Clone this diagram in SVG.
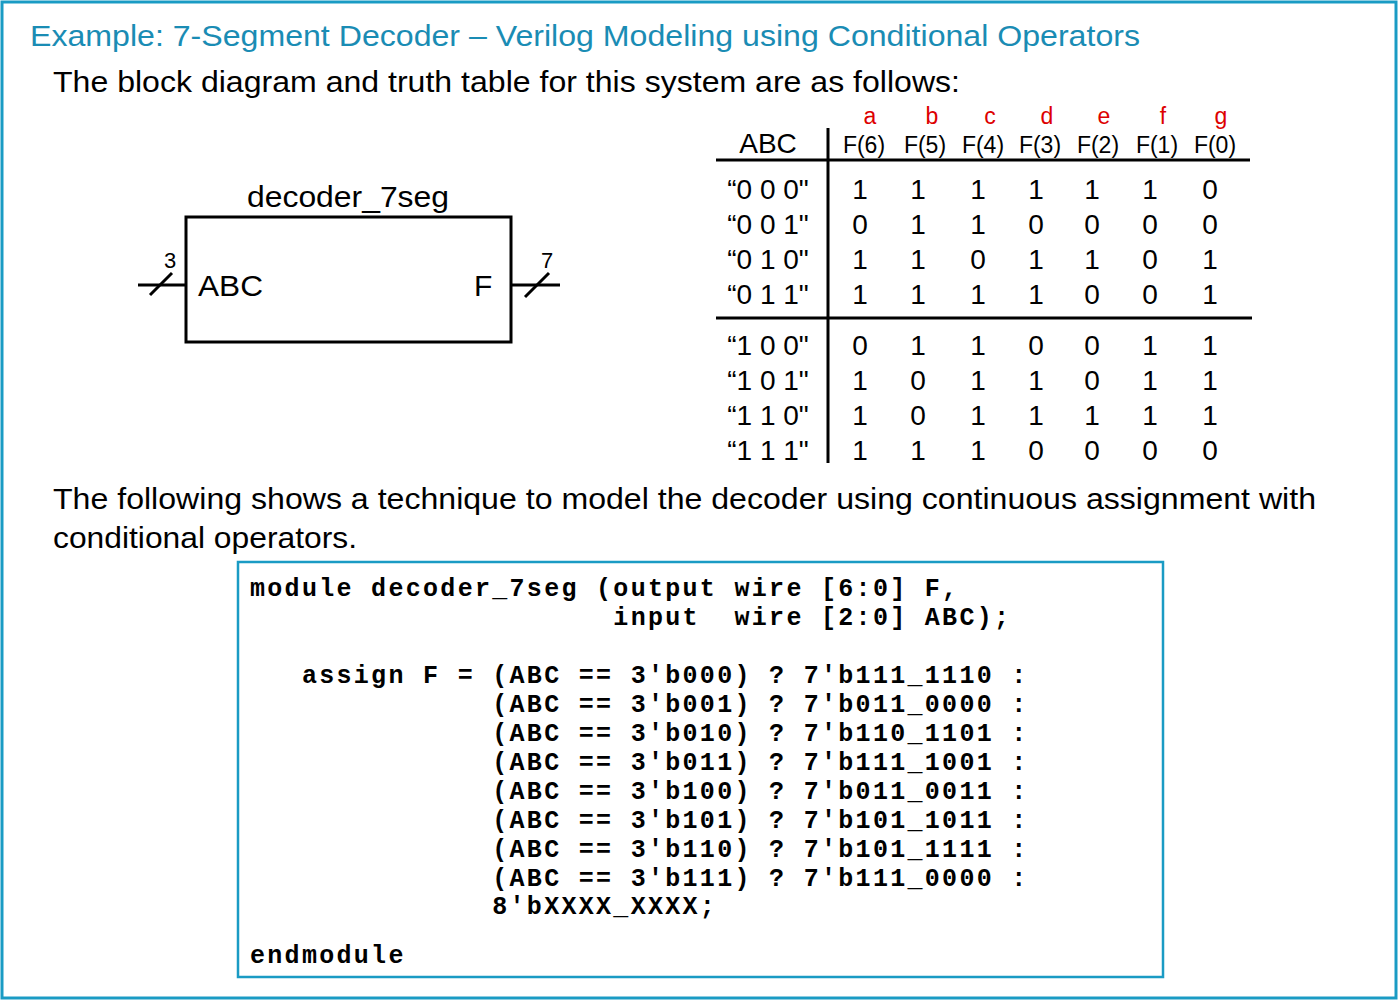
<svg xmlns="http://www.w3.org/2000/svg" width="1400" height="1006" viewBox="0 0 1400 1006">
<style>
.s{font-family:"Liberation Sans",Arial,sans-serif;fill:#000}
.t{font-size:30px}
.h{font-size:23px;text-anchor:middle}
.r{font-size:23px;text-anchor:middle;fill:#d00}
.v{font-size:28px;text-anchor:middle}
.c{font-family:"Liberation Mono","Courier New",monospace;font-weight:bold;font-size:25px;letter-spacing:2.3px;fill:#000;white-space:pre}
.ln{stroke:#000;stroke-width:3;fill:none}
</style>
<rect width="1400" height="1006" fill="#fff"/>
<rect x="2" y="2" width="1394" height="996" fill="none" stroke="#1a9bc4" stroke-width="3"/>
<text x="30" y="46" class="s t" style="fill:#1a8cb4" textLength="1110" lengthAdjust="spacingAndGlyphs">Example: 7-Segment Decoder – Verilog Modeling using Conditional Operators</text>
<text x="53" y="92" class="s t" textLength="907" lengthAdjust="spacingAndGlyphs">The block diagram and truth table for this system are as follows:</text>
<g id="block">
<rect x="186" y="217" width="325" height="125" class="ln"/>
<text x="247" y="207" class="s t" textLength="202" lengthAdjust="spacingAndGlyphs">decoder_7seg</text>
<text x="198" y="296" class="s t" textLength="65" lengthAdjust="spacingAndGlyphs">ABC</text>
<text x="474" y="296" class="s t">F</text>
</g>
<g id="connectors">
<line x1="138" y1="285" x2="186" y2="285" class="ln"/>
<line x1="150" y1="295" x2="172" y2="273" class="ln"/>
<line x1="511" y1="285" x2="560" y2="285" class="ln"/>
<line x1="525" y1="297" x2="549" y2="273" class="ln"/>
</g>
<text x="170" y="268" class="s" font-size="22" text-anchor="middle">3</text>
<text x="547" y="268" class="s" font-size="22" text-anchor="middle">7</text>
<g id="table">
<line x1="828" y1="128" x2="828" y2="463" class="ln"/>
<line x1="716" y1="160" x2="1250" y2="160" class="ln"/>
<line x1="716" y1="318" x2="1252" y2="318" class="ln"/>
<text x="768" y="153" class="s v">ABC</text>
<text x="864" y="153" class="s h">F(6)</text><text x="925" y="153" class="s h">F(5)</text><text x="983" y="153" class="s h">F(4)</text><text x="1040" y="153" class="s h">F(3)</text><text x="1098" y="153" class="s h">F(2)</text><text x="1157" y="153" class="s h">F(1)</text><text x="1215" y="153" class="s h">F(0)</text>
<text x="870" y="124" class="s r">a</text><text x="932" y="124" class="s r">b</text><text x="990" y="124" class="s r">c</text><text x="1047" y="124" class="s r">d</text><text x="1104" y="124" class="s r">e</text><text x="1163" y="124" class="s r">f</text><text x="1221" y="124" class="s r">g</text>
<g class="s v">
<text x="768" y="199">“0 0 0"</text><text x="768" y="234">“0 0 1"</text><text x="768" y="269">“0 1 0"</text><text x="768" y="304">“0 1 1"</text>
<text x="768" y="355">“1 0 0"</text><text x="768" y="390">“1 0 1"</text><text x="768" y="425">“1 1 0"</text><text x="768" y="460">“1 1 1"</text>
</g>
<g class="s v">
<text y="199"><tspan x="860">1</tspan><tspan x="918">1</tspan><tspan x="978">1</tspan><tspan x="1036">1</tspan><tspan x="1092">1</tspan><tspan x="1150">1</tspan><tspan x="1210">0</tspan></text>
<text y="234"><tspan x="860">0</tspan><tspan x="918">1</tspan><tspan x="978">1</tspan><tspan x="1036">0</tspan><tspan x="1092">0</tspan><tspan x="1150">0</tspan><tspan x="1210">0</tspan></text>
<text y="269"><tspan x="860">1</tspan><tspan x="918">1</tspan><tspan x="978">0</tspan><tspan x="1036">1</tspan><tspan x="1092">1</tspan><tspan x="1150">0</tspan><tspan x="1210">1</tspan></text>
<text y="304"><tspan x="860">1</tspan><tspan x="918">1</tspan><tspan x="978">1</tspan><tspan x="1036">1</tspan><tspan x="1092">0</tspan><tspan x="1150">0</tspan><tspan x="1210">1</tspan></text>
<text y="355"><tspan x="860">0</tspan><tspan x="918">1</tspan><tspan x="978">1</tspan><tspan x="1036">0</tspan><tspan x="1092">0</tspan><tspan x="1150">1</tspan><tspan x="1210">1</tspan></text>
<text y="390"><tspan x="860">1</tspan><tspan x="918">0</tspan><tspan x="978">1</tspan><tspan x="1036">1</tspan><tspan x="1092">0</tspan><tspan x="1150">1</tspan><tspan x="1210">1</tspan></text>
<text y="425"><tspan x="860">1</tspan><tspan x="918">0</tspan><tspan x="978">1</tspan><tspan x="1036">1</tspan><tspan x="1092">1</tspan><tspan x="1150">1</tspan><tspan x="1210">1</tspan></text>
<text y="460"><tspan x="860">1</tspan><tspan x="918">1</tspan><tspan x="978">1</tspan><tspan x="1036">0</tspan><tspan x="1092">0</tspan><tspan x="1150">0</tspan><tspan x="1210">0</tspan></text>
</g>
</g>
<text x="53" y="509" class="s t" textLength="1263" lengthAdjust="spacingAndGlyphs">The following shows a technique to model the decoder using continuous assignment with</text>
<text x="53" y="548" class="s t" textLength="304" lengthAdjust="spacingAndGlyphs">conditional operators.</text>
<g id="code">
<rect x="238" y="562" width="925" height="415" fill="none" stroke="#1a9bc4" stroke-width="2.5"/>
<text x="250" y="596" class="c" xml:space="preserve">module decoder_7seg (output wire [6:0] F,</text>
<text x="250" y="625" class="c" xml:space="preserve">                     input  wire [2:0] ABC);</text>
<text x="250" y="683" class="c" xml:space="preserve">   assign F = (ABC == 3'b000) ? 7'b111_1110 :</text>
<text x="250" y="712" class="c" xml:space="preserve">              (ABC == 3'b001) ? 7'b011_0000 :</text>
<text x="250" y="741" class="c" xml:space="preserve">              (ABC == 3'b010) ? 7'b110_1101 :</text>
<text x="250" y="770" class="c" xml:space="preserve">              (ABC == 3'b011) ? 7'b111_1001 :</text>
<text x="250" y="799" class="c" xml:space="preserve">              (ABC == 3'b100) ? 7'b011_0011 :</text>
<text x="250" y="828" class="c" xml:space="preserve">              (ABC == 3'b101) ? 7'b101_1011 :</text>
<text x="250" y="857" class="c" xml:space="preserve">              (ABC == 3'b110) ? 7'b101_1111 :</text>
<text x="250" y="886" class="c" xml:space="preserve">              (ABC == 3'b111) ? 7'b111_0000 :</text>
<text x="250" y="914" class="c" xml:space="preserve">              8'bXXXX_XXXX;</text>
<text x="250" y="963" class="c" xml:space="preserve">endmodule</text>
</g>
</svg>
